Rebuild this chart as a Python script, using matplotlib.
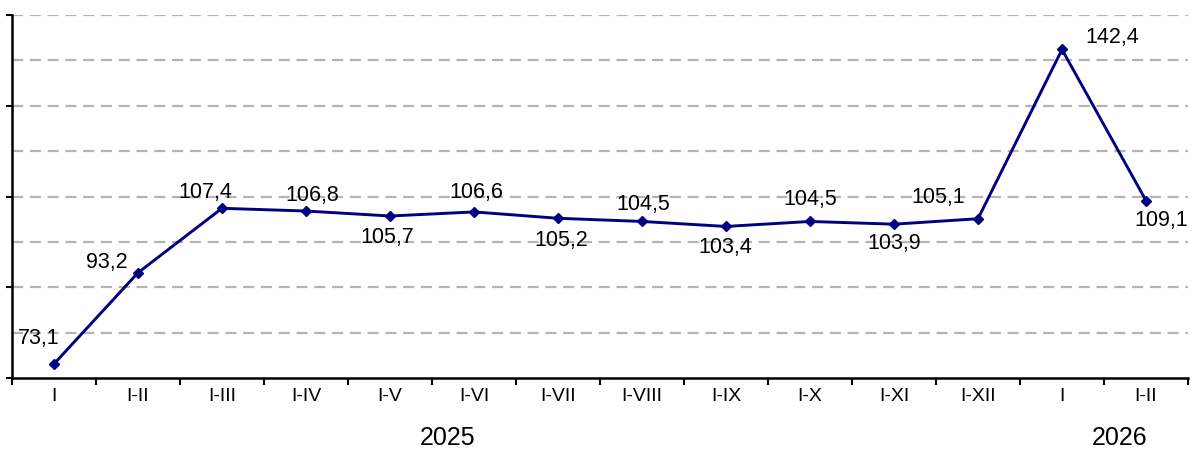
import matplotlib
matplotlib.use("Agg")
import matplotlib.pyplot as plt
import matplotlib.transforms as mtransforms

plt.rcParams['font.family'] = ['Liberation Sans', 'DejaVu Sans']

categories = ["I", "I-II", "I-III", "I-IV", "I-V", "I-VI", "I-VII", "I-VIII",
              "I-IX", "I-X", "I-XI", "I-XII", "I", "I-II"]
values = [73.1, 93.2, 107.4, 106.8, 105.7, 106.6, 105.2, 104.5,
          103.4, 104.5, 103.9, 105.1, 142.4, 109.1]
labels = ["73,1", "93,2", "107,4", "106,8", "105,7", "106,6", "105,2", "104,5",
          "103,4", "104,5", "103,9", "105,1", "142,4", "109,1"]
years = ["2025", "2026"]
year_pos = [4.69, 12.69]

# label offsets in pixels (dx right, dy down)
offsets_px = [(-15, -25), (-31, -10), (-17, -16), (6, -16), (-3, 21), (2, -19),
              (3, 22), (1, -17), (-1, 21), (0, -22), (0, 19), (-40, -21),
              (50, -12), (15, 20)]

fig = plt.figure(figsize=(12, 4.51), dpi=100)
ax = fig.add_axes([0.01, 0.1619, 0.98, 0.8048])

x = list(range(len(values)))
ax.plot(x, values, color='#000080', lw=2.1, marker='D', markersize=5.5, zorder=3)

ax.set_xlim(-0.5, len(values) - 0.5)
ax.set_ylim(70, 150)

for yv in range(80, 151, 10):
    ax.axhline(yv, color='#b4b4b4', lw=1.6, linestyle=(0, (5, 3)), zorder=1)

for sp in ['top', 'right']:
    ax.spines[sp].set_visible(False)
ax.spines['left'].set_linewidth(1.8)
ax.spines['bottom'].set_linewidth(1.8)

ax.set_yticks(range(70, 151, 20))
ax.set_yticklabels([])
ax.tick_params(axis='y', length=4, width=1.5, direction='out')

ax.set_xticks(x)
ax.set_xticklabels(categories, fontsize=14)
ax.tick_params(axis='x', which='major', length=0, pad=7)
ax.set_xticks([i - 0.5 for i in range(len(values) + 1)], minor=True)
ax.tick_params(axis='x', which='minor', length=5, width=1.5, direction='out')

for xi, v, lab, (dx, dy) in zip(x, values, labels, offsets_px):
    ax.annotate(lab, (xi, v), xytext=(dx * 0.72, -dy * 0.72), textcoords='offset points',
                ha='center', va='center', fontsize=15.5, color='black')

trans = mtransforms.blended_transform_factory(ax.transData, ax.transAxes)
for yl, xp in zip(years, year_pos):
    ax.text(xp, -0.165, yl, transform=trans, ha='center', va='center', fontsize=18)

fig.savefig('out.png', dpi=100)
